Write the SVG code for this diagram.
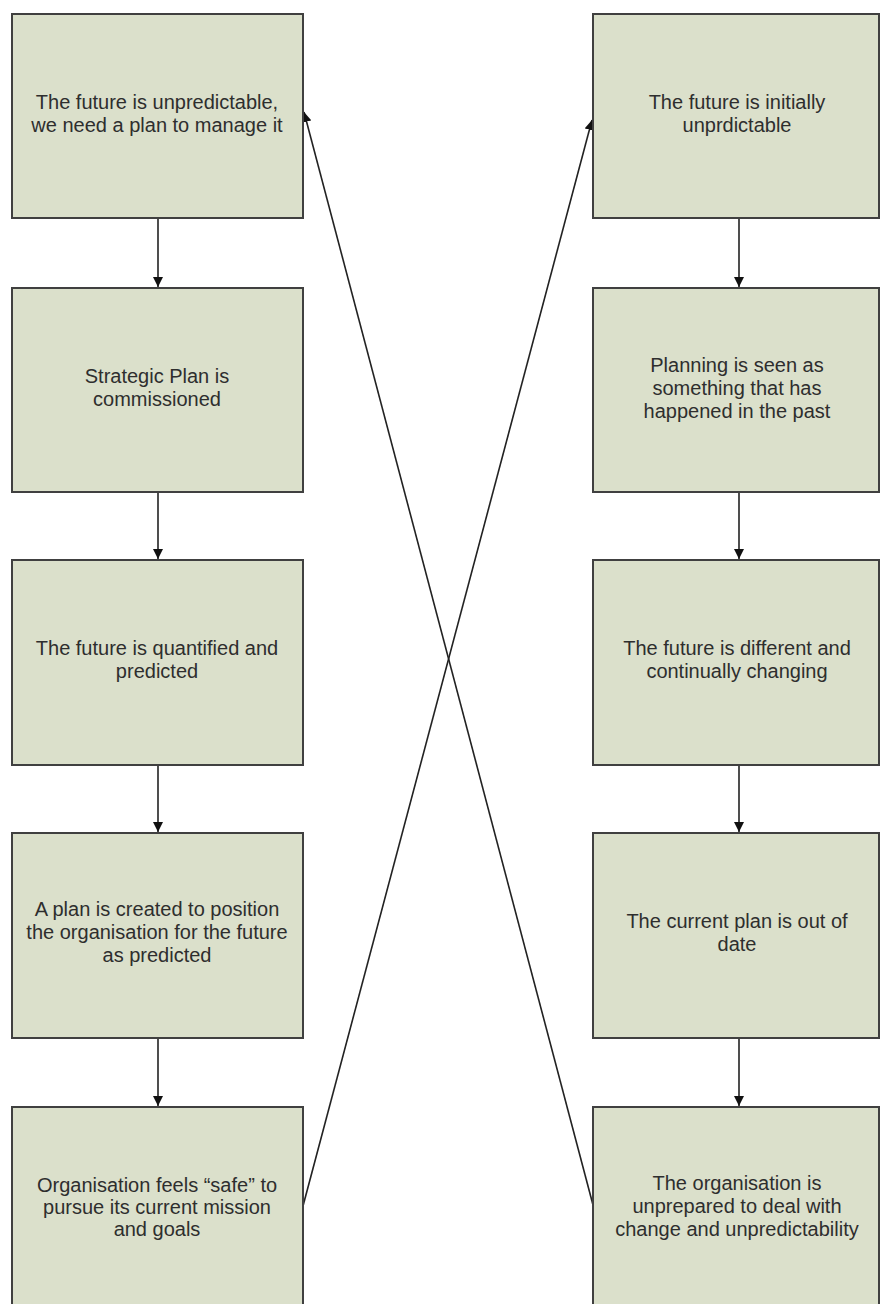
<svg xmlns="http://www.w3.org/2000/svg" width="881" height="1304" viewBox="0 0 881 1304">
<style>
.box{fill:#dbe0cb;stroke:#404040;stroke-width:2}
.t{font-family:"Liberation Sans",Arial,sans-serif;font-size:20px;fill:#2e2e2e;text-anchor:middle}
.c{stroke:#222;stroke-width:1.6;fill:none}
</style>
<defs>
<marker id="ah" viewBox="0 0 10 10" refX="10" refY="5" markerWidth="10" markerHeight="10" markerUnits="userSpaceOnUse" orient="auto">
<path d="M0,0 L10,5 L0,10 z" fill="#111"/>
</marker>
</defs>
<rect width="881" height="1304" fill="#ffffff"/>
<g id="connectors">
<line class="c" x1="158" y1="218" x2="158" y2="287" marker-end="url(#ah)"/>
<line class="c" x1="158" y1="492" x2="158" y2="559" marker-end="url(#ah)"/>
<line class="c" x1="158" y1="765" x2="158" y2="832" marker-end="url(#ah)"/>
<line class="c" x1="158" y1="1038" x2="158" y2="1106" marker-end="url(#ah)"/>
<line class="c" x1="739" y1="218" x2="739" y2="287" marker-end="url(#ah)"/>
<line class="c" x1="739" y1="492" x2="739" y2="559" marker-end="url(#ah)"/>
<line class="c" x1="739" y1="765" x2="739" y2="832" marker-end="url(#ah)"/>
<line class="c" x1="739" y1="1038" x2="739" y2="1106" marker-end="url(#ah)"/>
<line class="c" x1="303" y1="1206" x2="592" y2="120" marker-end="url(#ah)"/>
<line class="c" x1="593" y1="1205" x2="304" y2="112" marker-end="url(#ah)"/>
</g>
<g id="L1"><rect class="box" x="12" y="14" width="291" height="204"/>
<text class="t" x="157" y="109">The future is unpredictable,</text><text class="t" x="157" y="132">we need a plan to manage it</text></g>
<g id="L2"><rect class="box" x="12" y="288" width="291" height="204"/>
<text class="t" x="157" y="383">Strategic Plan is</text><text class="t" x="157" y="406">commissioned</text></g>
<g id="L3"><rect class="box" x="12" y="560" width="291" height="205"/>
<text class="t" x="157" y="655">The future is quantified and</text><text class="t" x="157" y="678">predicted</text></g>
<g id="L4"><rect class="box" x="12" y="833" width="291" height="205"/>
<text class="t" x="157" y="916">A plan is created to position</text><text class="t" x="157" y="939">the organisation for the future</text><text class="t" x="157" y="962">as predicted</text></g>
<g id="L5"><rect class="box" x="12" y="1107" width="291" height="210"/>
<text class="t" x="157" y="1192">Organisation feels “safe” to</text><text class="t" x="157" y="1214">pursue its current mission</text><text class="t" x="157" y="1236">and goals</text></g>
<g id="R1"><rect class="box" x="593" y="14" width="286" height="204"/>
<text class="t" x="737" y="109">The future is initially</text><text class="t" x="737" y="132">unprdictable</text></g>
<g id="R2"><rect class="box" x="593" y="288" width="286" height="204"/>
<text class="t" x="737" y="372">Planning is seen as</text><text class="t" x="737" y="395">something that has</text><text class="t" x="737" y="418">happened in the past</text></g>
<g id="R3"><rect class="box" x="593" y="560" width="286" height="205"/>
<text class="t" x="737" y="655">The future is different and</text><text class="t" x="737" y="678">continually changing</text></g>
<g id="R4"><rect class="box" x="593" y="833" width="286" height="205"/>
<text class="t" x="737" y="928">The current plan is out of</text><text class="t" x="737" y="951">date</text></g>
<g id="R5"><rect class="box" x="593" y="1107" width="286" height="210"/>
<text class="t" x="737" y="1190">The organisation is</text><text class="t" x="737" y="1213">unprepared to deal with</text><text class="t" x="737" y="1236">change and unpredictability</text></g>
</svg>
